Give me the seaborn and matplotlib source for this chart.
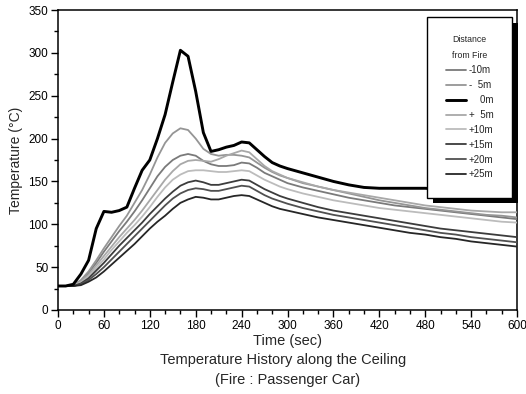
import numpy as np
import pandas as pd
import matplotlib
matplotlib.use("Agg")
import matplotlib.pyplot as plt
import matplotlib.patheffects as pe
from matplotlib.ticker import MultipleLocator
import seaborn as sns

time = [0, 10, 20, 30, 40, 50, 60, 70, 80, 90, 100, 110, 120, 130, 140, 150, 160, 170, 180, 190,
        200, 210, 220, 230, 240, 250, 260, 270, 280, 290, 300, 320, 340, 360, 380, 400, 420, 440,
        460, 480, 500, 520, 540, 560, 580, 600]

t_m10 = [28, 28, 29, 34, 43, 55, 68, 80, 92, 103, 115, 128, 142, 156, 167, 175, 180, 182, 180, 174,
         170, 168, 168, 169, 172, 171, 166, 160, 156, 152, 148, 143, 139, 135, 131, 128, 125, 122,
         120, 118, 116, 114, 112, 110, 108, 106]
t_m5 = [28, 28, 29, 35, 45, 58, 72, 85, 98, 110, 125, 140, 158, 178, 195, 206, 212, 210, 200, 188,
        182, 180, 181, 181, 180, 178, 172, 166, 161, 157, 154, 148, 144, 140, 136, 132, 128, 125,
        122, 119, 117, 115, 113, 111, 110, 108]
t_0 = [28, 28, 30, 42, 58, 95, 115, 114, 116, 120, 142, 163, 175, 200, 228, 266, 303, 296, 255, 207,
       185, 187, 190, 192, 196, 195, 187, 179, 172, 168, 165, 160, 155, 150, 146, 143, 142, 142,
       142, 142, 141, 140, 139, 138, 137, 136]
t_p5 = [28, 28, 29, 33, 41, 52, 63, 74, 85, 95, 105, 116, 128, 140, 152, 162, 170, 174, 175, 174,
        173, 176, 180, 183, 186, 184, 176, 168, 162, 158, 154, 149, 144, 140, 137, 134, 131, 128,
        125, 122, 120, 118, 116, 115, 114, 114]
t_p10 = [28, 28, 28, 32, 39, 49, 59, 70, 80, 90, 99, 109, 120, 132, 143, 152, 158, 162, 163, 163,
         162, 161, 161, 162, 163, 162, 157, 152, 148, 144, 141, 136, 132, 128, 125, 122, 119, 117,
         115, 113, 111, 109, 107, 105, 103, 102]
t_p15 = [28, 28, 28, 31, 37, 46, 55, 65, 75, 84, 93, 102, 112, 121, 130, 138, 145, 149, 151, 149,
         146, 146, 148, 150, 152, 151, 146, 141, 137, 133, 130, 125, 120, 116, 113, 110, 107, 104,
         101, 98, 95, 93, 91, 89, 87, 85]
t_p20 = [28, 28, 28, 30, 35, 42, 50, 59, 68, 77, 86, 95, 104, 113, 122, 130, 136, 140, 142, 141,
         139, 139, 141, 143, 145, 144, 139, 134, 130, 127, 124, 119, 115, 111, 108, 105, 102, 99,
         96, 93, 90, 88, 85, 83, 81, 79]
t_p25 = [28, 28, 28, 29, 33, 38, 45, 53, 61, 69, 77, 86, 95, 103, 110, 118, 125, 129, 132, 131,
         129, 129, 131, 133, 134, 133, 129, 125, 121, 118, 116, 112, 108, 105, 102, 99, 96, 93,
         90, 88, 85, 83, 80, 78, 76, 74]

labels = ["-10m", "-  5m", "    0m", "+  5m", "+10m", "+15m", "+20m", "+25m"]
x_ticks = [0, 60, 120, 180, 240, 300, 360, 420, 480, 540, 600]
y_ticks = [0, 50, 100, 150, 200, 250, 300, 350]

series = [t_m10, t_m5, t_0, t_p5, t_p10, t_p15, t_p20, t_p25]
colors = ["#7a7a7a", "#959595", "#000000", "#a8a8a8", "#bcbcbc", "#3c3c3c", "#505050", "#262626"]
widths = [1.3, 1.3, 2.1, 1.3, 1.3, 1.3, 1.3, 1.3]
zorders = [3, 3, 5, 3, 3, 4, 4, 4]

sns.set_style("ticks")
plt.rcParams["font.family"] = ["Liberation Sans", "DejaVu Sans"]

fig = plt.figure(figsize=(5.26, 3.94), dpi=100)
ax = fig.add_axes([58 / 526, 1 - 310 / 394, (517 - 58) / 526, 300 / 394])

for vals, lab, c, w, z in zip(series, labels, colors, widths, zorders):
    df = pd.DataFrame({"Time": time, "Temp": vals})
    sns.lineplot(data=df, x="Time", y="Temp", color=c, lw=w, label=lab, ax=ax, zorder=z)

ax.set_xlim(0, 600)
ax.set_ylim(0, 350)
ax.set_xticks(x_ticks)
ax.set_yticks(y_ticks)
ax.xaxis.set_minor_locator(MultipleLocator(20))
ax.yaxis.set_minor_locator(MultipleLocator(25))
ax.tick_params(which="major", direction="out", length=5, width=1, colors="black", labelsize=8.5, pad=2)
ax.tick_params(which="minor", direction="out", length=3, width=1, colors="black")
for s in ax.spines.values():
    s.set_visible(True)
    s.set_color("black")
    s.set_linewidth(1.1)
ax.set_xlabel("")
ax.set_ylabel("Temperature (°C)", fontsize=10, labelpad=4)

cx = (58 + 517) / 2 / 526
fig.text(cx, 1 - 341 / 394, "Time (sec)", ha="center", va="center", fontsize=10.5)
fig.text(cx - 0.008, 1 - 360 / 394, "Temperature History along the Ceiling", ha="center", va="center", fontsize=10.5)
fig.text(cx, 1 - 380 / 394, "(Fire : Passenger Car)", ha="center", va="center", fontsize=10.5)

leg = ax.legend(loc="upper right", bbox_to_anchor=((512 - 58) / 459, (310 - 17) / 300),
                title="Distance\nfrom Fire", fontsize=7, title_fontsize=6.3,
                frameon=True, fancybox=False, framealpha=1, edgecolor="black",
                handlelength=2.1, handletextpad=0.25, labelspacing=0.5, borderpad=1.9,
                borderaxespad=0)
leg.get_title().set_linespacing(2.0)
leg.get_frame().set_linewidth(1.0)
leg.get_frame().set_path_effects([pe.SimplePatchShadow(offset=(4, -4), shadow_rgbFace="black", alpha=1),
                                  pe.Normal()])
leg.set_zorder(10)

fig.savefig("out.png", dpi=100)
